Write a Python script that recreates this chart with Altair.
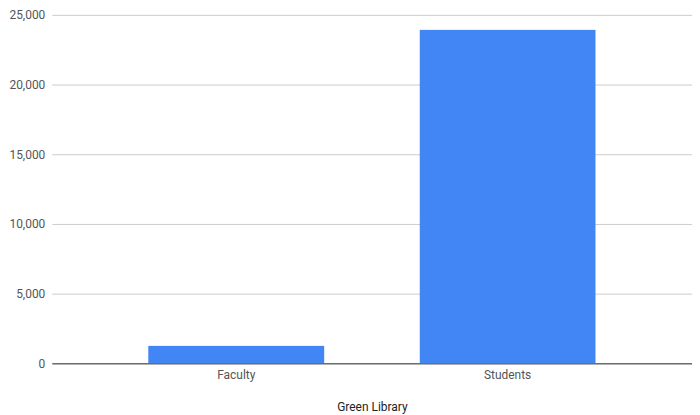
import altair as alt
import pandas as pd

categories = ["Faculty", "Students"]
values = [1280, 23950]

df = pd.DataFrame({"group": categories, "count": values})

chart = alt.Chart(df).mark_bar(color="#4285F4", cornerRadius=1).encode(
    x=alt.X("group:N", title="Green Library",
            scale=alt.Scale(paddingInner=0.35, paddingOuter=0.355),
            axis=alt.Axis(labelAngle=0, ticks=False, domainColor="#333333",
                          labelColor="#555555", labelFont="Roboto", labelFontSize=12,
                          labelPadding=6, titleFont="Roboto", titleFontSize=12,
                          titleFontWeight="normal", titleColor="#222222",
                          titlePadding=21)),
    y=alt.Y("count:Q", title=None,
            scale=alt.Scale(domain=[0, 25000], nice=False),
            axis=alt.Axis(values=[0, 5000, 10000, 15000, 20000, 25000], format=",d",
                          domain=False, ticks=False, gridColor="#cccccc",
                          labelColor="#555555", labelFont="Roboto", labelFontSize=12,
                          labelPadding=7)),
).properties(
    width=643, height=350,
    autosize=alt.AutoSizeParams(type="none"),
    padding={"left": 44, "top": 6, "right": 0, "bottom": 51},
).configure_view(stroke=None)

chart.save("out.html", embed_options={"renderer": "svg", "actions": False})
